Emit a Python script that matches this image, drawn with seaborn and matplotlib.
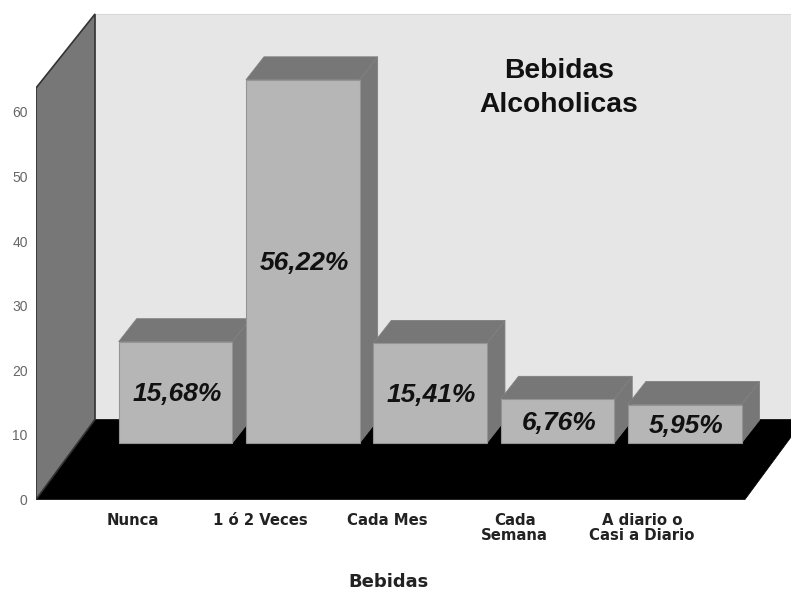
import matplotlib
matplotlib.use("Agg")
import matplotlib.pyplot as plt
from matplotlib.patches import Polygon
import numpy as np
import pandas as pd
import seaborn as sns

categories = ["Nunca", "1 ó 2 Veces", "Cada Mes", "Cada\nSemana", "A diario o\nCasi a Diario"]
values = [15.68, 56.22, 15.41, 6.76, 5.95]
value_labels = ["15,68%", "56,22%", "15,41%", "6,76%", "5,95%"]
yticks = [0, 10, 20, 30, 40, 50, 60]

W, H = 791, 592
X_PX = 127.3      # px per category
Y_PX = 6.46       # px per unit
X0 = 175.5        # px of first bar centre
Y0 = 499.5        # px of value 0
LEFT = 36

FRONT = "#b6b6b6"
DARK = "#777777"
BACK = "#e6e6e6"

sns.set_theme(style="white")
plt.rcParams["font.family"] = ["Liberation Sans", "DejaVu Sans"]

fig = plt.figure(figsize=(W / 100, H / 100), dpi=100)
ax = fig.add_axes([LEFT / W, (H - Y0) / H, 1 - LEFT / W, Y0 / H])

# depth of bars and of the box, in data units
bar_dx, bar_dy = 18 / X_PX, 23 / Y_PX
box_dx, box_dy = 59 / X_PX, 80 / Y_PX
base = (Y0 - 443) / Y_PX

df = pd.DataFrame({"cat": categories, "val": values})
sns.barplot(data=df, x="cat", y="val", color=FRONT, saturation=1, width=0.893,
            bottom=base, errorbar=None, edgecolor="#949494", linewidth=0.8, ax=ax)

xmin, xmax = (LEFT - X0) / X_PX, (W - X0) / X_PX
ymax = Y0 / Y_PX
wall_front = (Y0 - 88) / Y_PX
wall_back = (Y0 - 14) / Y_PX
ax.set_xlim(xmin, xmax)
ax.set_ylim(0, ymax)

# back wall, floor, left wall
floor_right = (745 - X0) / X_PX
ax.add_patch(Polygon([(xmin + box_dx, box_dy), (xmax + 1, box_dy), (xmax + 1, wall_back),
                      (xmin + box_dx, wall_back)], fc=BACK, ec="#d8d8d8", lw=0.8, zorder=0.5))
ax.add_patch(Polygon([(xmin, 0), (floor_right, 0), (floor_right + box_dx, box_dy),
                      (xmin + box_dx, box_dy)], fc="black", ec="black", lw=0.5, zorder=0.6))
ax.add_patch(Polygon([(xmin, 0), (xmin + box_dx, box_dy), (xmin + box_dx, wall_back),
                      (xmin, wall_front)], fc=DARK, ec="#333333", lw=1.2, zorder=0.7))

# side and top faces behind each front face
for i, bar in enumerate(ax.patches[:len(values)]):
    x0, x1 = bar.get_x(), bar.get_x() + bar.get_width()
    top = base + values[i]
    ax.add_patch(Polygon([(x1, base), (x1 + bar_dx, base + bar_dy), (x1 + bar_dx, top + bar_dy), (x1, top)],
                         fc=DARK, ec="#808080", lw=0.6, zorder=2 + 2 * i))
    ax.add_patch(Polygon([(x0, top), (x0 + bar_dx, top + bar_dy), (x1 + bar_dx, top + bar_dy), (x1, top)],
                         fc=DARK, ec="#808080", lw=0.6, zorder=2 + 2 * i))
    bar.set_zorder(3 + 2 * i)

texts = ax.bar_label(ax.containers[0], labels=value_labels, label_type="center",
                     fontsize=19, fontweight="bold", fontstyle="italic", color="#111111")
for t in texts:
    t.set_zorder(20)
    t.xyann = (1, -1.5)

ax.text((559 - X0) / X_PX, (Y0 - 88) / Y_PX, "Bebidas\nAlcoholicas", ha="center", va="center",
        fontsize=20.3, fontweight="bold", color="#111111", linespacing=1.38, zorder=20)

ax.set_yticks(yticks)
ax.set_yticklabels([str(v) for v in yticks], fontsize=10, color="#666666")
ax.set_xticks(np.arange(len(categories)) - 0.335)
ax.set_xticklabels(categories, fontsize=10.7, fontweight="bold", color="#222222",
                   family=["DejaVu Sans"], linespacing=1.0)
ax.tick_params(axis="both", length=0)
ax.tick_params(axis="y", pad=6)
ax.tick_params(axis="x", pad=10)
ax.set_xlabel("Bebidas", fontsize=13, fontweight="bold", color="#222222", family=["DejaVu Sans"])
ax.set_ylabel("")
# axis title sits under the middle category
ax.xaxis.set_label_coords((388 - LEFT) / (W - LEFT), -(582 - Y0) / Y0, transform=ax.transAxes)
ax.xaxis.label.set_va("center")
sns.despine(ax=ax, left=True, bottom=True)

fig.savefig("out.png", dpi=100)
